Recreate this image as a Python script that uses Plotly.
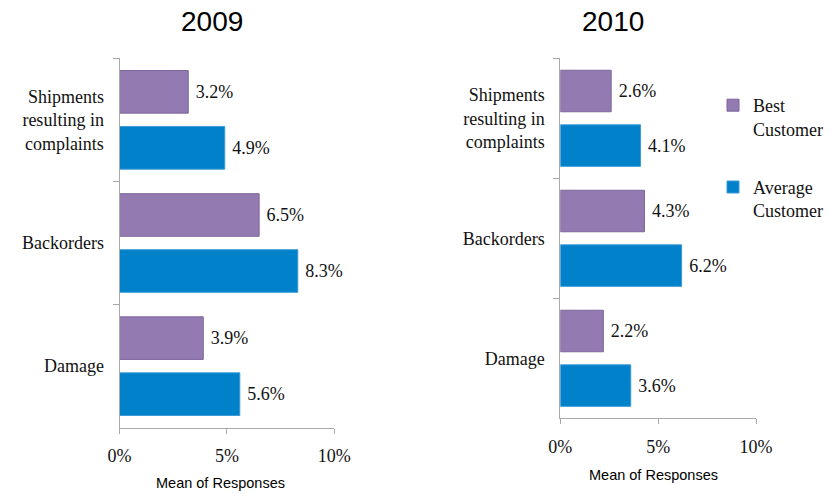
import plotly.graph_objects as go

categories = ["Shipments<br>resulting in<br>complaints", "Backorders", "Damage"]
best_2009 = [0.032, 0.065, 0.039]
avg_2009 = [0.049, 0.083, 0.056]
best_2010 = [0.026, 0.043, 0.022]
avg_2010 = [0.041, 0.062, 0.036]
series_names = ["Best<br>Customer", "Average<br>Customer"]
panel_titles = ["2009", "2010"]
x_ticks = [0, 0.05, 0.10]

PURPLE = "#937BB2"
PURPLE_LINE = "#7C659C"
BLUE = "#0081CA"
BLUE_LINE = "#3A9AD5"
AXIS = "#A9A9A9"
SERIF = "Liberation Serif"
SANS = "Liberation Sans"

W, H = 837, 494

def px_x(p):
    return p / W

def px_y(p):
    return 1 - p / H

fig = go.Figure()

panels = [
    (best_2009, avg_2009, "x", "y", True),
    (best_2010, avg_2010, "x2", "y2", False),
]
for best, avg, xa, ya, first in panels:
    for vals, name, col, lcol in [
        (best, series_names[0], PURPLE, PURPLE_LINE),
        (avg, series_names[1], BLUE, BLUE_LINE),
    ]:
        fig.add_trace(go.Bar(
            x=vals, y=categories, orientation="h", name=name,
            marker=dict(color=col, line=dict(color=lcol, width=1)),
            texttemplate=" %{x:.1%}", textposition="outside",
            textfont=dict(family=SERIF, size=18, color="#111111"),
            cliponaxis=False, xaxis=xa, yaxis=ya,
            showlegend=not first, legendgroup=name,
        ))

xcommon = dict(range=[0, 0.10], tickvals=x_ticks, tickformat=".0%", showgrid=False,
               zeroline=False, showline=True, linecolor=AXIS, linewidth=1,
               ticks="outside", ticklen=5, tickcolor=AXIS, automargin=False,
               tickfont=dict(family=SERIF, size=18, color="#111111"),
               ticklabelstandoff=7, fixedrange=True)
ycommon = dict(type="category", categoryorder="array", categoryarray=categories,
               autorange="reversed", showgrid=False, zeroline=False, showline=True,
               linecolor=AXIS, linewidth=1, ticks="outside", ticklen=6, tickcolor=AXIS,
               tickson="boundaries", automargin=False,
               tickfont=dict(family=SERIF, size=18, color="#111111"),
               ticklabelstandoff=11, fixedrange=True)

fig.update_layout(
    width=W, height=H,
    margin=dict(l=0, r=0, t=0, b=0, autoexpand=False),
    paper_bgcolor="white", plot_bgcolor="white",
    barmode="group", bargap=0.09, bargroupgap=0.24,
    xaxis=dict(domain=[px_x(119.5), px_x(334.3)], anchor="y", **xcommon),
    yaxis=dict(domain=[px_y(427.7), px_y(58.3)], anchor="x", **ycommon),
    xaxis2=dict(domain=[px_x(560.3), px_x(756)], anchor="y2", **xcommon),
    yaxis2=dict(domain=[px_y(418.3), px_y(58.3)], anchor="x2", **ycommon),
    legend=dict(x=px_x(713), y=px_y(87), xanchor="left", yanchor="top",
                font=dict(family=SERIF, size=18, color="#111111"),
                traceorder="grouped", tracegroupgap=32, valign="top",
                bgcolor="rgba(0,0,0,0)",
                itemclick=False, itemdoubleclick=False),
    showlegend=True,
)

for txt, xc in [(panel_titles[0], 212), (panel_titles[1], 613)]:
    fig.add_annotation(text=txt, xref="paper", yref="paper", x=px_x(xc), y=px_y(22),
                       showarrow=False, xanchor="center", yanchor="middle",
                       font=dict(family=SANS, size=28, color="black"))
for xc, yc in [(220, 483), (653, 475)]:
    fig.add_annotation(text="Mean of Responses", xref="paper", yref="paper",
                       x=px_x(xc), y=px_y(yc), showarrow=False,
                       xanchor="center", yanchor="middle",
                       font=dict(family=SANS, size=14.5, color="black"))

fig.write_html("out.html", config=dict(displayModeBar=False),
               post_script="document.body.style.margin='0';document.body.style.overflow='hidden';")
